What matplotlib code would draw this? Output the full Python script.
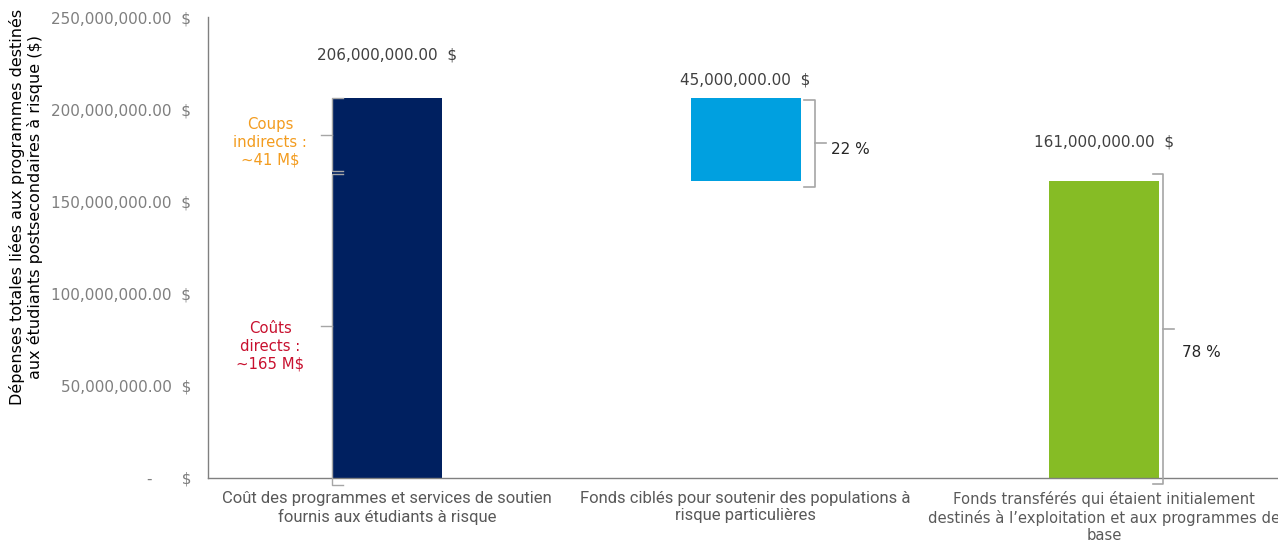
import matplotlib
matplotlib.use("Agg")
import matplotlib.pyplot as plt

# ---------------- data ----------------
categories = [
    "Coût des programmes et services de soutien\nfournis aux étudiants à risque",
    "Fonds ciblés pour soutenir des populations à\nrisque particulières",
    "Fonds transférés qui étaient initialement\ndestinés à l’exploitation et aux programmes de\nbase",
]
bar_heights = [206e6, 45e6, 161e6]
bar_bottoms = [0, 161e6, 0]
value_labels = ["206,000,000.00  $", "45,000,000.00  $", "161,000,000.00  $"]
direct_cost = 165e6
indirect_cost = 41e6
split_labels = ["Coups\nindirects :\n~41 M$", "Coûts\ndirects :\n~165 M$"]
pct_labels = ["22 %", "78 %"]
yticks = [0, 50e6, 100e6, 150e6, 200e6, 250e6]
ytick_labels = ["-      $", "50,000,000.00  $", "100,000,000.00  $",
                "150,000,000.00  $", "200,000,000.00  $", "250,000,000.00  $"]
ylabel = "Dépenses totales liées aux programmes destinés\naux étudiants postsecondaires à risque ($)"
bar_colors = ["#002060", "#00A0E0", "#86BC25"]

plt.rcParams["font.family"] = ["DejaVu Sans"]

fig = plt.figure(figsize=(12.78, 5.41), dpi=100)
ax = fig.add_axes([208 / 1278, 1 - 478 / 541, 1 - 208 / 1278, (478 - 17) / 541])

x = list(range(len(categories)))
w = 0.307
ax.bar(x, bar_heights, bottom=bar_bottoms, width=w, color=bar_colors, zorder=2)

ax.set_xlim(-0.4993, 2.485)
ax.set_ylim(0, 250e6)
ax.set_yticks(yticks)
ax.set_yticklabels(ytick_labels, color="#7F7F7F", fontsize=11)
ax.tick_params(axis="y", length=0, pad=12)
ax.tick_params(axis="x", length=0)
ax.set_xticks([])
for s in ["top", "right"]:
    ax.spines[s].set_visible(False)
for s in ["left", "bottom"]:
    ax.spines[s].set_color("#808080")
    ax.spines[s].set_linewidth(1.0)

ax.set_ylabel(ylabel, fontsize=11.5, color="#000000")
ax.yaxis.set_label_coords(-0.154, 0.588)

# category labels
fams = ["Roboto", "Roboto", "DejaVu Sans"]
sizes = [12, 12, 10.6]
for i, (c, f, s) in enumerate(zip(categories, fams, sizes)):
    ax.text(i, -7.0e6, c, ha="center", va="top", fontsize=s, family=f,
            color="#595959", linespacing=1.2)

# value labels
tops = [b + h for b, h in zip(bar_bottoms, bar_heights)]
offsets = [23.4e6, 10e6, 21e6]
for i, (t, lab, o) in enumerate(zip(tops, value_labels, offsets)):
    ax.text(i, t + o, lab, ha="center", va="center", fontsize=11, color="#404040")

bc = "#A6A6A6"
dx = 0.03
def bracket(xp, y0, y1, direction, ymid=None, lw=1.2):
    """direction=+1: ends point right, notch left; -1: ends left, notch right"""
    if ymid is None:
        ymid = (y0 + y1) / 2
    ax.plot([xp + direction * dx, xp, xp, xp + direction * dx],
            [y1, y1, y0, y0], color=bc, lw=lw, clip_on=False, zorder=3)
    ax.plot([xp, xp - direction * dx], [ymid, ymid], color=bc, lw=lw,
            clip_on=False, zorder=3)

# left brackets on first bar
xl = 0 - w / 2
bracket(xl, direct_cost + 1.5e6, bar_heights[0], +1, lw=1.0)
bracket(xl, -4e6, direct_cost, +1, ymid=direct_cost / 2, lw=1.0)

ax.text(-0.326, 182e6, split_labels[0], ha="center", va="center", fontsize=10.7,
        color="#F39C1F", linespacing=1.25)
ax.text(-0.326, 71.5e6, split_labels[1], ha="center", va="center", fontsize=10.7,
        color="#C8102E", linespacing=1.25)

# right brackets
bracket(1 + w / 2 + 0.04, bar_bottoms[1] - 3e6, tops[1] - 1e6, -1)
bracket(2 + w / 2 + 0.012, -3e6, tops[2] + 4e6, -1)
ax.text(1 + w / 2 + 0.085, 178e6, pct_labels[0], ha="left", va="center",
        fontsize=11, color="#262626")
ax.text(2 + w / 2 + 0.065, 68e6, pct_labels[1], ha="left", va="center",
        fontsize=11, color="#262626")

fig.savefig("out.png", dpi=100)
